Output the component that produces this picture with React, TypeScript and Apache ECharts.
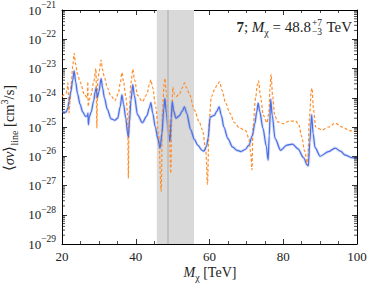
import React, { useEffect, useRef } from "react";
import * as echarts from "echarts";

const xTicks = [20, 40, 60, 80, 100];
const yDecades = [-29, -28, -27, -26, -25, -24, -23, -22, -21];
const bandRange = [45.7, 55.8];
const bestFit = 48.8;

const blueMass = [
  20, 21.1, 21.6, 21.9, 22.4, 22.9, 23.3, 23.7, 24.2, 24.9, 25.6, 26.4, 26.9, 27.05, 27.15, 27.4, 27.9,
  28.6, 29.0, 29.25, 29.6, 30.0, 30.6, 31.0, 31.5, 32.3, 33.3, 34.3, 35.1, 35.8, 36.25, 36.7, 37.3, 37.8,
  38.0, 38.3, 38.7, 39.2, 39.6, 40.5, 41.8, 43.0, 43.7, 44.1, 44.6, 45.3, 46.0, 46.6, 47.1, 47.6, 47.9,
  48.3, 48.9, 49.3, 49.6, 49.9, 50.3, 50.9, 51.8, 52.6, 53.2, 53.8, 54.9, 55.9, 56.8, 58.0, 58.5, 59.2,
  59.6, 60.2, 61.3, 62.0, 62.6, 63.2, 63.9, 65.0, 66.2, 67.5, 68.5, 69.7, 70.7, 71.6, 72.3, 72.8, 73.2,
  73.6, 74.5, 75.4, 75.9, 76.2, 76.6, 77.0, 77.8, 79.3, 81.0, 82.5, 84.0, 85.5, 86.5, 86.8, 87.2, 87.7,
  88.1, 88.6, 90.0, 92.3, 94.1, 95.5, 96.8, 98.5, 100,
];
const blueSigma = [
  3.3e-25, 3.2e-25, 4.5e-25, 7.4e-25, 1.6e-24, 4.0e-24, 8.3e-24, 3.5e-24, 1.4e-24, 6.0e-25, 3.3e-25,
  2.3e-25, 2.4e-25, 3.0e-25, 1.2e-25, 2.2e-25, 3.2e-25, 7.9e-25, 1.6e-24, 2.2e-24, 1.0e-24, 1.6e-24,
  4.5e-24, 2.2e-24, 1.0e-24, 4.0e-25, 1.9e-25, 1.7e-25, 2.0e-25, 5.0e-25, 1.26e-24, 6.0e-25, 2.0e-25,
  6.0e-26, 4.5e-26, 1.5e-25, 8.0e-25, 2.8e-24, 1.2e-24, 2.6e-25, 1.4e-25, 2.4e-25, 4.5e-25, 6.8e-25,
  3.0e-25, 1.0e-25, 4.0e-26, 1.9e-26, 6.0e-26, 4.0e-25, 9.5e-25, 3.0e-25, 6.0e-26, 3.2e-26, 2.0e-25,
  7.4e-25, 3.5e-25, 2.0e-25, 2.4e-25, 3.5e-25, 4.9e-25, 3.0e-25, 8.0e-26, 3.8e-26, 2.4e-26, 1.6e-26,
  1.5e-26, 2.2e-26, 4.0e-26, 2.2e-25, 2.5e-25, 3.5e-25, 4.9e-25, 2.5e-25, 1.0e-25, 4.0e-26, 2.1e-26,
  1.6e-26, 1.45e-26, 1.7e-26, 2.4e-26, 5.0e-26, 1.3e-25, 3.2e-25, 6.5e-25, 3.5e-25, 9.0e-26, 2.2e-26,
  7.4e-27, 5.0e-26, 8.9e-25, 2.5e-25, 4.0e-26, 1.6e-26, 2.4e-26, 2.6e-26, 1.8e-26, 8.9e-27, 5.0e-27,
  4.7e-27, 3.0e-26, 2.6e-25, 6.0e-26, 2.0e-26, 1.0e-26, 1.45e-26, 1.9e-26, 1.5e-26, 1.1e-26, 9.0e-27,
  8.5e-27,
];

const orangeMass = [
  20, 21.1, 21.45, 21.6, 21.9, 22.1, 22.5, 22.9, 23.3, 23.7, 24.2, 24.9, 26.1, 26.9, 27.0, 27.1, 27.4,
  27.9, 28.6, 29.2, 29.45, 29.7, 30.1, 30.6, 31.0, 31.5, 32.3, 33.2, 34.4, 35.3, 35.8, 36.25, 36.7, 37.3,
  37.8, 38.0, 38.2, 38.7, 39.2, 39.7, 40.5, 41.8, 43.0, 43.7, 44.1, 44.6, 45.4, 46.2, 46.9, 47.3, 47.7,
  47.9, 48.3, 49.0, 49.5, 49.8, 50.05, 50.5, 50.9, 51.8, 52.6, 53.2, 53.8, 54.5, 55.9, 57.2, 58.1, 59.0,
  59.45, 59.9, 60.5, 61.6, 62.2, 62.75, 63.4, 64.4, 65.5, 66.8, 68.0, 69.8, 70.7, 71.2, 71.5, 71.8, 72.5,
  73.0, 73.3, 73.8, 74.6, 75.6, 76.1, 76.4, 76.7, 77.1, 77.7, 78.5, 80.0, 81.6, 83.4, 84.2, 85.0, 85.8,
  86.6, 87.1, 87.6, 87.8, 88.2, 88.8, 90.5, 92.3, 94.1, 96.0, 98.0, 100,
];
const orangeSigma = [
  1.1e-24, 1.4e-24, 2.2e-24, 3.2e-24, 3.0e-25, 6.0e-25, 3.0e-24, 1.2e-23, 3.3e-23, 1.4e-23, 6.5e-24,
  3.5e-24, 1.26e-24, 1.0e-24, 3.5e-24, 5.0e-25, 8.9e-25, 1.26e-24, 3.5e-24, 1.0e-23, 9.0e-26, 4.0e-24,
  8.0e-24, 1.95e-23, 9.0e-24, 5.0e-24, 2.2e-24, 1.2e-24, 8.0e-25, 1.4e-24, 3.2e-24, 7.2e-24, 3.5e-24,
  1.1e-24, 3.0e-25, 1.8e-27, 3.0e-25, 3.2e-24, 9.5e-24, 4.0e-24, 1.2e-24, 7.4e-25, 1.3e-24, 2.8e-24,
  4.1e-24, 2.2e-24, 5.0e-25, 6.0e-26, 6.3e-28, 5.0e-25, 3.0e-24, 4.6e-24, 1.5e-24, 1.5e-25, 2.6e-27,
  3.0e-25, 2.3e-24, 1.3e-24, 1.1e-24, 1.3e-24, 2.2e-24, 3.2e-24, 2.2e-24, 1.4e-24, 3.8e-25, 1.5e-25,
  7.9e-26, 1.6e-26, 1.1e-27, 1.5e-25, 1.1e-24, 2.2e-24, 3.0e-24, 3.5e-24, 1.8e-24, 6.5e-25, 3.0e-25,
  1.4e-25, 9.5e-26, 7.5e-26, 4.0e-26, 1.2e-26, 3.4e-27, 1.0e-25, 1.0e-24, 2.8e-24, 3.8e-24, 1.2e-24,
  2.5e-25, 1.4e-25, 3.0e-25, 2.0e-24, 6.3e-24, 1.2e-24, 2.5e-25, 1.5e-25, 1.3e-25, 1.6e-25, 1.6e-25,
  1.2e-25, 4.7e-26, 1.5e-26, 5.0e-27, 2.0e-25, 1.8e-24, 2.1e-24, 4.0e-25, 1.0e-25, 7.9e-26, 1.0e-25,
  1.35e-25, 1.0e-25, 7.5e-26, 6.9e-26,
];

const FONT = "Liberation Serif";
const INK = "#222";

export default function App() {
  const ref = useRef<HTMLDivElement>(null);
  useEffect(() => {
    const chart = echarts.init(ref.current!, null, { renderer: "svg" });
    // the y axis is a linear axis on log10(<sigma v>), labelled as powers of ten
    const blueData = blueMass.map((m, i) => [m, Math.log10(blueSigma[i])]);
    const orangeData = orangeMass.map((m, i) => [m, Math.log10(orangeSigma[i])]);
    const minorY: number[][] = [];
    for (let d = 0; d < yDecades.length - 1; d++) {
      for (let k = 2; k <= 9; k++) minorY.push([xTicks[0], yDecades[d] + Math.log10(k)]);
    }
    const yMin = yDecades[0];
    const yMax = yDecades[yDecades.length - 1];

    const xAxisBase = {
      type: "value",
      min: xTicks[0],
      max: xTicks[xTicks.length - 1],
      interval: 20,
      axisLine: { show: true, lineStyle: { color: "#000", width: 1 } },
      axisTick: { show: true, inside: true, length: 5, lineStyle: { color: "#000", width: 0.8 } },
      minorTick: { show: true, splitNumber: 4, length: 3, lineStyle: { color: "#000", width: 0.7 } },
      splitLine: { show: false },
      minorSplitLine: { show: false },
    };
    const yAxisBase = {
      type: "value",
      min: yMin,
      max: yMax,
      interval: 1,
      axisLine: { show: true, lineStyle: { color: "#000", width: 1 } },
      axisTick: { show: true, inside: true, length: 5, lineStyle: { color: "#000", width: 0.8 } },
      splitLine: { show: false },
    };

    chart.setOption({
      animation: false,
      backgroundColor: "#fff",
      grid: { left: 62, right: 16, top: 10, bottom: 44 },
      xAxis: [
        {
          ...xAxisBase,
          position: "bottom",
          axisLabel: { show: true, margin: 6, color: INK, fontFamily: FONT, fontSize: 13 },
        },
        { ...xAxisBase, position: "top", axisLabel: { show: false } },
      ],
      yAxis: [
        {
          ...yAxisBase,
          position: "left",
          axisLabel: {
            show: true,
            margin: 6,
            color: INK,
            fontFamily: FONT,
            formatter: (v: number) => `{b|10}{s|\u2212${Math.abs(Math.round(v))}}`,
            rich: {
              b: { fontFamily: FONT, fontSize: 13, lineHeight: 20, color: INK },
              s: { fontFamily: FONT, fontSize: 9.5, lineHeight: 10, verticalAlign: "top", color: INK },
            },
          },
        },
        { ...yAxisBase, position: "right", axisLabel: { show: false } },
      ],
      graphic: [
        {
          type: "text",
          x: 9,
          y: 128,
          rotation: Math.PI / 2,
          style: {
            text: "{t|\u27E8}{i|\u03C3v}{t|\u27E9}{sub|line}{t| [cm}{sup|3}{t|/s]}",
            align: "center",
            verticalAlign: "middle",
            fill: INK,
            rich: {
              t: { fontFamily: FONT, fontSize: 14.5, lineHeight: 20, fill: INK },
              i: { fontFamily: FONT, fontSize: 14.5, lineHeight: 20, fontStyle: "italic", fill: INK },
              sub: { fontFamily: FONT, fontSize: 10, lineHeight: 10, verticalAlign: "bottom", fill: INK },
              sup: { fontFamily: FONT, fontSize: 10, lineHeight: 10, verticalAlign: "top", fill: INK },
            },
          },
        },
        {
          type: "text",
          x: 210,
          y: 272,
          style: {
            text: "{i|M}{sub|\u03C7}{t| [TeV]}",
            align: "center",
            verticalAlign: "middle",
            fill: INK,
            rich: {
              t: { fontFamily: FONT, fontSize: 14, lineHeight: 20, fill: INK },
              i: { fontFamily: FONT, fontSize: 14, lineHeight: 20, fontStyle: "italic", fill: INK },
              sub: { fontFamily: FONT, fontSize: 10, lineHeight: 10, verticalAlign: "bottom", fill: INK },
            },
          },
        },
        {
          type: "text",
          x: 311,
          y: 27,
          style: {
            text: "{b|7}{t|; }{i|M}{sub|\u03C7}{t| = 48.8}",
            align: "right",
            verticalAlign: "middle",
            fill: INK,
            rich: {
              b: { fontFamily: FONT, fontSize: 15, lineHeight: 20, fontWeight: "bold", fill: INK },
              t: { fontFamily: FONT, fontSize: 15, lineHeight: 20, fill: INK },
              i: { fontFamily: FONT, fontSize: 15, lineHeight: 20, fontStyle: "italic", fill: INK },
              sub: { fontFamily: FONT, fontSize: 10, lineHeight: 10, verticalAlign: "bottom", fill: INK },
            },
          },
        },
        {
          type: "text",
          x: 312,
          y: 23,
          style: { text: "+7", fontFamily: FONT, fontSize: 9.5, fill: INK, align: "left", verticalAlign: "middle" },
        },
        {
          type: "text",
          x: 312,
          y: 32,
          style: { text: "\u22123", fontFamily: FONT, fontSize: 9.5, fill: INK, align: "left", verticalAlign: "middle" },
        },
        {
          type: "text",
          x: 352,
          y: 27,
          style: { text: "TeV", fontFamily: FONT, fontSize: 15, fill: INK, align: "right", verticalAlign: "middle" },
        },
      ],
      series: [
        {
          type: "line",
          data: [],
          z: 0,
          silent: true,
          markArea: {
            silent: true,
            itemStyle: { color: "#d9d9d9", opacity: 1 },
            data: [[{ xAxis: bandRange[0] }, { xAxis: bandRange[1] }]],
          },
          markLine: {
            silent: true,
            symbol: "none",
            label: { show: false },
            lineStyle: { color: "#b8b8b8", width: 1.5, type: "solid" },
            data: [{ xAxis: bestFit }],
          },
        },
        {
          type: "line",
          data: blueData,
          z: 1,
          showSymbol: false,
          silent: true,
          smooth: 0.3,
          smoothMonotone: "x",
          lineStyle: { color: "rgba(90,120,230,0.25)", width: 3 },
        },
        {
          type: "line",
          data: orangeData,
          z: 2,
          showSymbol: false,
          silent: true,
          smooth: 0.3,
          smoothMonotone: "x",
          lineStyle: { color: "#ff8f2e", width: 1.2, type: [3, 2] },
        },
        {
          type: "line",
          data: blueData,
          z: 3,
          showSymbol: false,
          silent: true,
          smooth: 0.3,
          smoothMonotone: "x",
          lineStyle: { color: "#4a6fe3", width: 1.2 },
        },
        {
          type: "custom",
          z: 5,
          silent: true,
          clip: false,
          data: minorY,
          renderItem: (params: any, api: any) => {
            const v = api.value(1);
            const p0 = api.coord([xTicks[0], v]);
            const p1 = api.coord([xTicks[xTicks.length - 1], v]);
            return {
              type: "group",
              children: [
                { type: "line", shape: { x1: p0[0], y1: p0[1], x2: p0[0] + 3, y2: p0[1] }, style: { stroke: "#000", lineWidth: 0.7 } },
                { type: "line", shape: { x1: p1[0] - 3, y1: p1[1], x2: p1[0], y2: p1[1] }, style: { stroke: "#000", lineWidth: 0.7 } },
              ],
            };
          },
        },
      ],
    });
    return () => chart.dispose();
  }, []);
  return <div ref={ref} style={{ position: "absolute", left: 0, top: 0, width: 373, height: 288 }} />;
}
